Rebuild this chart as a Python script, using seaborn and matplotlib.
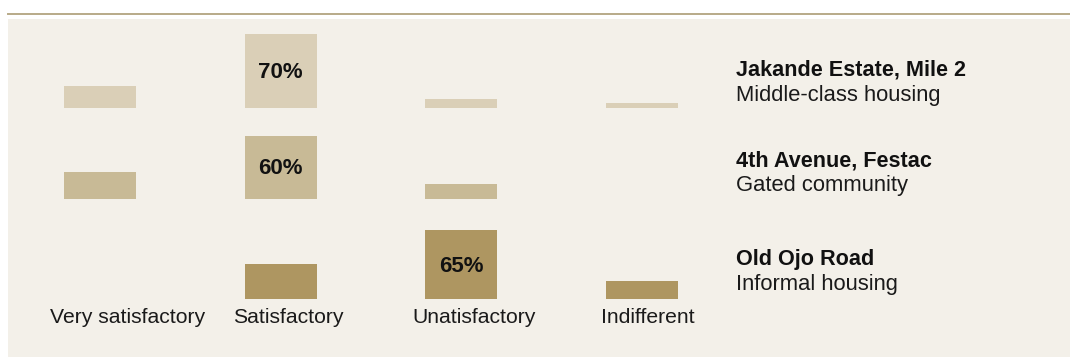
import matplotlib
matplotlib.use("Agg")
import matplotlib.pyplot as plt
from matplotlib.patches import Rectangle
from matplotlib.lines import Line2D
import seaborn as sns

# Survey responses: share of residents rating their housing conditions
categories = ["Very satisfactory", "Satisfactory", "Unatisfactory", "Indifferent"]
sites = ["Jakande Estate, Mile 2", "4th Avenue, Festac", "Old Ojo Road"]
site_types = ["Middle-class housing", "Gated community", "Informal housing"]
jakande = [21, 70, 9, 5]
festac = [26, 60, 14, 0]
ojo = [0, 33, 65, 17]
# the response each estate names most often is labelled on its bar
highlight = [1, 1, 2]

values = [jakande, festac, ojo]
colors = ["#dacfb7", "#c8ba96", "#ae9661"]

W, H = 1070, 358
fig = plt.figure(figsize=(W / 100, H / 100), dpi=100)
fig.patch.set_facecolor("white")
plt.rcParams["font.family"] = ["Liberation Sans", "DejaVu Sans"]

# panel background and top rule
fig.add_artist(Rectangle((8 / W, 1 / H), 1 - 8 / W, (357 - 19) / H,
                         transform=fig.transFigure, facecolor="#f3f0e9",
                         edgecolor="none", zorder=0))
fig.add_artist(Line2D([8 / W, 1], [1 - 13.8 / H, 1 - 13.8 / H],
                      transform=fig.transFigure, color="#b8aa88", lw=1.4))

# one small bar chart per estate, sharing a common vertical scale
px_per_unit = 1.06
ymax = 75
baselines = [108.3, 199.3, 299.3]
x_left = 9.7
x_right = 732.3
# horizontal nudge (pixels) of each category caption under its bar
caption_shift = [28, 8, 13, 6]

for r in range(3):
    base = baselines[r]
    ax = fig.add_axes([x_left / W, (H - base) / H, (x_right - x_left) / W,
                       ymax * px_per_unit / H])
    ax.set_facecolor("none")
    sns.barplot(x=categories, y=values[r], order=categories, color=colors[r],
                saturation=1, width=0.4, linewidth=0, ax=ax)
    ax.set_xlim(-0.5, 3.5)
    ax.set_ylim(0, ymax)
    for s in ax.spines.values():
        s.set_visible(False)
    ax.set_yticks([])
    ax.set_xticks([])
    ax.set_ylabel("")
    ax.set_xlabel("")
    i = highlight[r]
    v = values[r][i]
    ax.annotate(f"{v}%", xy=(i, v / 2), xytext=(0, -1.5),
                textcoords="offset pixels", ha="center", va="center",
                fontsize=16, fontweight="bold", color="#111111")
    if r == 2:
        for k, cat in enumerate(categories):
            ax.annotate(cat, xy=(k, 0), xytext=(caption_shift[k], -24),
                        textcoords="offset pixels", ha="center",
                        va="baseline", fontsize=15.2, color="#1a1a1a",
                        annotation_clip=False)

    # estate name and housing type on the right
    name_base = [75.7, 166.0, 265.0][r]
    fig.text(736 / W, 1 - name_base / H, sites[r], ha="left", va="baseline",
             fontsize=15.6, fontweight="bold", color="#111111")
    fig.text(736 / W, 1 - (name_base + 25.3) / H, site_types[r], ha="left",
             va="baseline", fontsize=15.8, color="#1a1a1a")

fig.savefig("out.png", dpi=100, facecolor=fig.get_facecolor())
